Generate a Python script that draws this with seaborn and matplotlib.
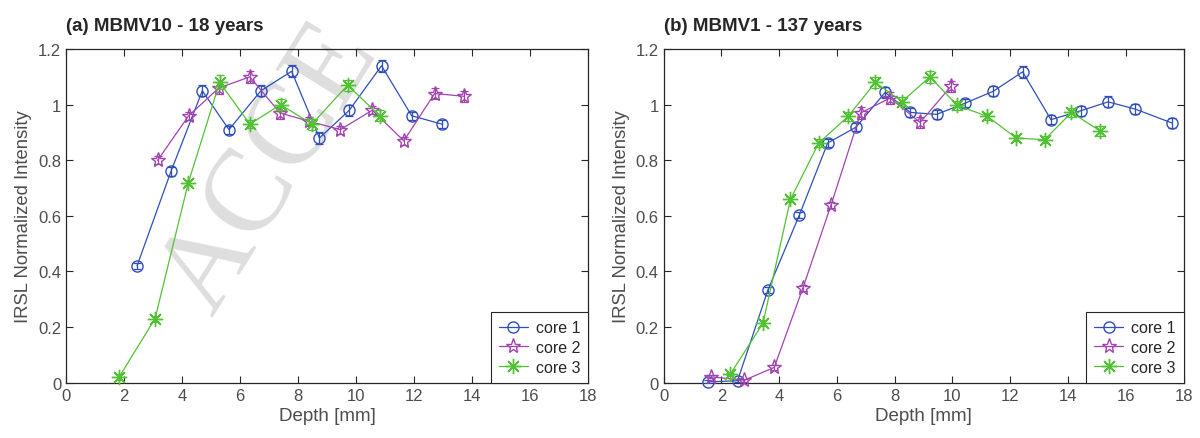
"""
IRSL normalized intensity vs depth for two rock samples (MBMV10, MBMV1).
"""

import numpy as np
import pandas as pd
import matplotlib
matplotlib.use("Agg")
import matplotlib.pyplot as plt
import seaborn as sns

# ---- panel (a): MBMV10 - 18 years
a_core1_depth = [2.45, 3.62, 4.70, 5.62, 6.72, 7.78, 8.74, 9.77, 10.88, 11.92, 12.96]
a_core1_int = [0.42, 0.76, 1.05, 0.91, 1.05, 1.12, 0.88, 0.98, 1.14, 0.96, 0.93]
a_core1_err = [0.010, 0.015, 0.020, 0.015, 0.020, 0.022, 0.020, 0.020, 0.022, 0.015, 0.015]

a_core2_depth = [3.16, 4.23, 5.27, 6.34, 7.38, 8.39, 9.46, 10.56, 11.65, 12.71, 13.73]
a_core2_int = [0.80, 0.96, 1.06, 1.10, 0.97, 0.94, 0.91, 0.98, 0.87, 1.04, 1.03]
a_core2_err = [0.015, 0.015, 0.020, 0.022, 0.020, 0.015, 0.015, 0.015, 0.015, 0.020, 0.020]

a_core3_depth = [1.83, 3.07, 4.22, 5.30, 6.34, 7.40, 8.48, 9.71, 10.82]
a_core3_int = [0.02, 0.23, 0.72, 1.08, 0.93, 1.00, 0.93, 1.07, 0.96]
a_core3_err = [0.010, 0.010, 0.010, 0.025, 0.015, 0.020, 0.020, 0.020, 0.020]

# ---- panel (b): MBMV1 - 137 years
b_core1_depth = [1.54, 2.56, 3.61, 4.70, 5.68, 6.66, 7.67, 8.54, 9.45, 10.43,
                 11.41, 12.43, 13.41, 14.44, 15.39, 16.33, 17.60]
b_core1_int = [0.003, 0.007, 0.333, 0.603, 0.862, 0.919, 1.044, 0.972, 0.965, 1.005,
               1.048, 1.118, 0.946, 0.978, 1.010, 0.984, 0.934]
b_core1_err = [0.005, 0.005, 0.010, 0.010, 0.015, 0.015, 0.020, 0.015, 0.015, 0.015,
               0.018, 0.022, 0.015, 0.018, 0.020, 0.018, 0.018]

b_core2_depth = [1.65, 2.80, 3.83, 4.82, 5.80, 6.82, 7.84, 8.88, 9.95]
b_core2_int = [0.021, 0.009, 0.055, 0.340, 0.640, 0.970, 1.024, 0.936, 1.066]
b_core2_err = [0.005, 0.005, 0.008, 0.010, 0.010, 0.020, 0.020, 0.020, 0.020]

b_core3_depth = [2.31, 3.44, 4.39, 5.37, 6.39, 7.33, 8.25, 9.22, 10.17, 11.21,
                 12.21, 13.19, 14.12, 15.10]
b_core3_int = [0.031, 0.214, 0.659, 0.862, 0.958, 1.080, 1.011, 1.100, 0.997, 0.958,
               0.880, 0.874, 0.972, 0.906]
b_core3_err = [0.005, 0.010, 0.010, 0.015, 0.015, 0.020, 0.015, 0.022, 0.015, 0.012,
               0.012, 0.012, 0.015, 0.018]

PANELS = [
    ("(a) MBMV10 - 18 years", [
        ("core 1", a_core1_depth, a_core1_int, a_core1_err),
        ("core 2", a_core2_depth, a_core2_int, a_core2_err),
        ("core 3", a_core3_depth, a_core3_int, a_core3_err),
    ]),
    ("(b) MBMV1 - 137 years", [
        ("core 1", b_core1_depth, b_core1_int, b_core1_err),
        ("core 2", b_core2_depth, b_core2_int, b_core2_err),
        ("core 3", b_core3_depth, b_core3_int, b_core3_err),
    ]),
]

X_TICKS = [0, 2, 4, 6, 8, 10, 12, 14, 16, 18]
Y_TICKS = [0, 0.2, 0.4, 0.6, 0.8, 1.0, 1.2]
Y_TICK_LABELS = ["0", "0.2", "0.4", "0.6", "0.8", "1", "1.2"]

STYLES = {
    "core 1": dict(color="#2f4fb8", marker="o", markersize=8),
    "core 2": dict(color="#a243b0", marker="*", markersize=11),
    "core 3": dict(color="#52c234", marker=(8, 2, 0), markersize=11),
}

AXES_COLOR = "#262626"
TICK_COLOR = "#4d4d4d"


def draw_panel(ax, title, series):
    for name, depth, inten, err in series:
        st = STYLES[name]
        df = pd.DataFrame({"depth": depth, "intensity": inten})
        sns.lineplot(
            data=df, x="depth", y="intensity", ax=ax, label=name,
            color=st["color"], marker=st["marker"], markersize=st["markersize"],
            markerfacecolor="none", markeredgecolor=st["color"],
            markeredgewidth=1.0, linewidth=0.9, zorder=3, clip_on=False,
        )
        ax.errorbar(depth, inten, yerr=err, fmt="none", ecolor=st["color"],
                    elinewidth=0.9, capsize=3, capthick=0.9, zorder=3)

    ax.set_xlim(0, 18)
    ax.set_ylim(0, 1.2)
    ax.set_xticks(X_TICKS)
    ax.set_yticks(Y_TICKS)
    ax.set_yticklabels(Y_TICK_LABELS)
    ax.set_xlabel("Depth [mm]", fontsize=13.5, color=TICK_COLOR, labelpad=3)
    ax.set_ylabel("IRSL Normalized Intensity", fontsize=13.3, color=TICK_COLOR)
    ax.set_title(title, loc="left", fontsize=13.5, fontweight="bold", pad=14)
    ax.tick_params(direction="in", top=True, right=True, length=5, width=0.8,
                   colors=AXES_COLOR, labelcolor=TICK_COLOR, labelsize=12)
    for sp in ax.spines.values():
        sp.set_visible(True)
        sp.set_color(AXES_COLOR)
        sp.set_linewidth(0.9)
    ax.set_facecolor("none")
    ax.grid(False)

    leg = ax.legend(loc="lower right", borderaxespad=0.0, fancybox=False,
                    framealpha=1.0, edgecolor=AXES_COLOR, fontsize=11.5,
                    handlelength=1.8, handletextpad=0.5, labelspacing=0.3,
                    borderpad=0.5)
    leg.get_frame().set_linewidth(0.8)
    leg.set_zorder(5)


def main() -> None:
    sns.set_theme(style="ticks")
    plt.rcParams["font.family"] = ["Liberation Sans", "DejaVu Sans"]

    fig = plt.figure(figsize=(12, 4.39), dpi=100)
    ax_a = fig.add_axes([0.055, 0.126, 0.435, 0.760])
    ax_b = fig.add_axes([0.553, 0.126, 0.4333, 0.760])

    # faint manuscript watermark (only its start is visible)
    fig.text(0.177, 0.277, "ACCE", rotation=58, rotation_mode="anchor",
             ha="left", va="baseline", fontsize=85, color="#dedede",
             family=["Liberation Serif", "DejaVu Serif"], zorder=-1)

    for ax, (title, series) in zip([ax_a, ax_b], PANELS):
        draw_panel(ax, title, series)

    fig.savefig("out.png", dpi=100)
    plt.close(fig)


if __name__ == "__main__":
    main()
